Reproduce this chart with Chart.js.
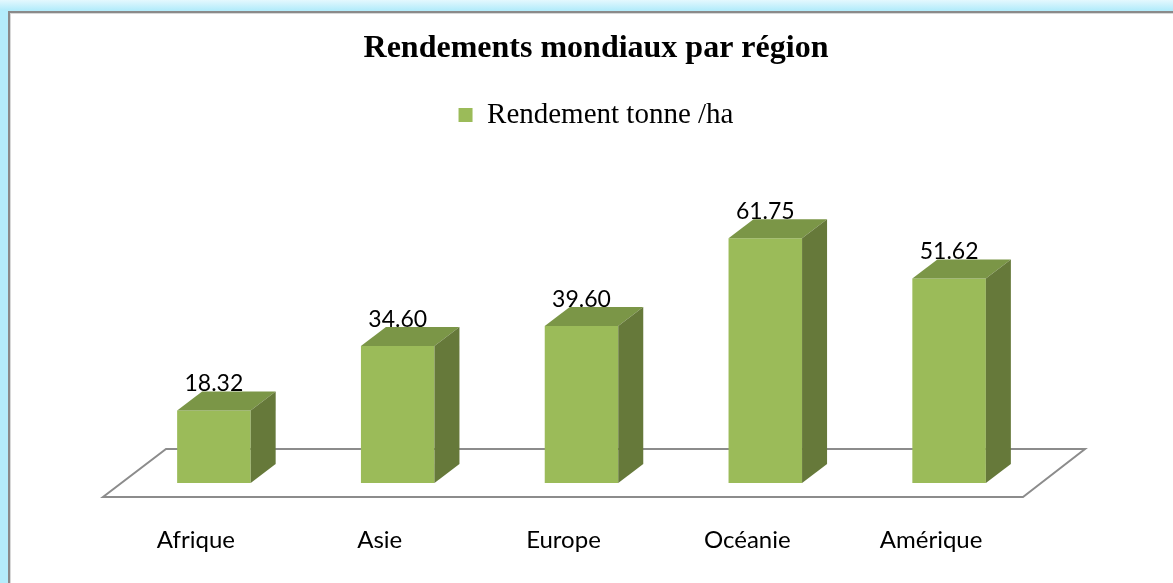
<!DOCTYPE html>
<html>
<head>
<meta charset="utf-8">
<script src="https://cdn.jsdelivr.net/npm/chart.js@4.4.1/dist/chart.umd.min.js"></script>
<style>
  html, body { margin: 0; padding: 0; }
  body {
    width: 1173px; height: 583px; overflow: hidden; position: relative;
    background: linear-gradient(to bottom, #e4f8fe 0px, #b4ecfb 10px);
  }
  .cadre {
    position: absolute; left: 8px; top: 11px; width: 1300px; height: 700px;
    border: 2px solid #8a8a8a; background: #fff;
    box-shadow: inset 1px 1px 0 #d8d8d8;
  }
  #graf { position: absolute; left: 0; top: 0; }
</style>
</head>
<body>
<div class="cadre"></div>
<canvas id="graf" width="1173" height="583"></canvas>
<script>
// donnees du graphique
const regions = ['Afrique', 'Asie', 'Europe', 'Océanie', 'Amérique'];
const rendements = [18.32, 34.60, 39.60, 61.75, 51.62];
const serieNom = 'Rendement tonne /ha';
const titre = 'Rendements mondiaux par région';

// couleurs des faces
const vertFace = '#9bbb59';
const vertDessus = '#7b9647';
const vertCote = '#66793a';

// profondeur de la perspective
const prof = { dx: 25, dy: -19 };

// plugin pour le socle, les faces 3d et les etiquettes
const barres3d = {
    id: 'barres3d',
    beforeDatasetsDraw(chart) {
        const ctx = chart.ctx;
        const area = chart.chartArea;
        const base = chart.scales.y.getPixelForValue(0);
        ctx.save();
        ctx.beginPath();
        ctx.moveTo(area.left - 19, base + 14);
        ctx.lineTo(area.right - 18, base + 14);
        ctx.lineTo(area.right + 44, base - 34);
        ctx.lineTo(area.left + 44, base - 34);
        ctx.closePath();
        ctx.strokeStyle = '#8c8c8c';
        ctx.lineWidth = 2;
        ctx.stroke();
        ctx.restore();
    },
    afterDatasetsDraw(chart) {
        const ctx = chart.ctx;
        const meta = chart.getDatasetMeta(0);
        ctx.save();
        meta.data.forEach((bar, i) => {
            const g = bar.x - bar.width / 2;
            const d = bar.x + bar.width / 2;
            // dessus
            ctx.beginPath();
            ctx.moveTo(g, bar.y);
            ctx.lineTo(d, bar.y);
            ctx.lineTo(d + prof.dx, bar.y + prof.dy);
            ctx.lineTo(g + prof.dx, bar.y + prof.dy);
            ctx.closePath();
            ctx.fillStyle = vertDessus;
            ctx.fill();
            // cote droit
            ctx.beginPath();
            ctx.moveTo(d, bar.y);
            ctx.lineTo(d + prof.dx, bar.y + prof.dy);
            ctx.lineTo(d + prof.dx, bar.base + prof.dy);
            ctx.lineTo(d, bar.base);
            ctx.closePath();
            ctx.fillStyle = vertCote;
            ctx.fill();
            // etiquette de valeur
            ctx.fillStyle = '#000';
            ctx.font = '23px Lato';
            ctx.textAlign = 'center';
            ctx.textBaseline = 'alphabetic';
            ctx.fillText(rendements[i].toFixed(2), bar.x, bar.y + prof.dy);
        });
        ctx.restore();
    }
};

const config = {
    type: 'bar',
    data: {
        labels: regions,
        datasets: [{
            label: serieNom,
            data: rendements,
            backgroundColor: vertFace,
            borderWidth: 0,
            categoryPercentage: 1,
            barPercentage: 0.4
        }]
    },
    options: {
        responsive: false,
        animation: false,
        layout: { padding: { left: 122, right: 103, top: 0, bottom: 0 } },
        scales: {
            x: {
                grid: { display: false },
                border: { display: false },
                ticks: {
                    color: '#000',
                    font: { family: 'Lato', size: 24 },
                    padding: 35,
                    labelOffset: -18
                },
                afterFit(scale) { scale.height = 100; }
            },
            y: {
                // axe invisible, sert d'espace a droite pour centrer le titre
                position: 'right',
                min: 0,
                max: 86.7,
                grid: { display: false },
                border: { display: false },
                ticks: { display: false },
                afterFit(scale) { scale.width = 29; }
            }
        },
        plugins: {
            title: {
                display: true,
                text: titre,
                color: '#000',
                font: { family: 'Liberation Serif', size: 32, weight: 'bold' },
                padding: { top: 30, bottom: 22 }
            },
            legend: {
                display: true,
                position: 'top',
                labels: {
                    color: '#000',
                    font: { family: 'Liberation Serif', size: 29 },
                    boxWidth: 14,
                    boxHeight: 14,
                    padding: 10
                }
            },
            tooltip: { enabled: false }
        }
    },
    plugins: [barres3d]
};

const graf = new Chart(document.getElementById('graf').getContext('2d'), config);
</script>
</body>
</html>
